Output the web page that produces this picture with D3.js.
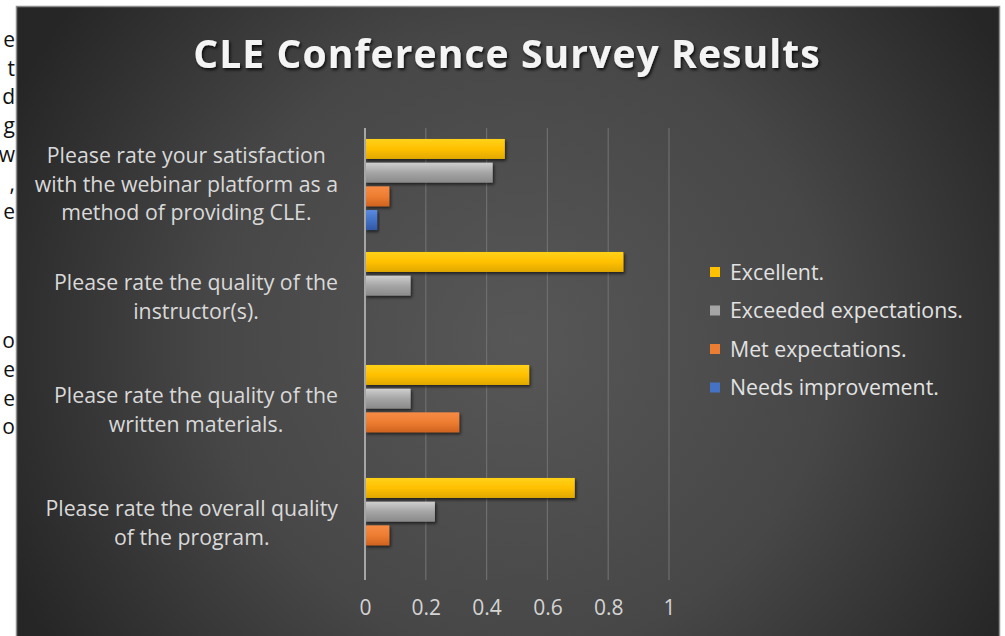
<!DOCTYPE html>
<html>
<head>
<meta charset="utf-8">
<script src="https://cdn.jsdelivr.net/npm/d3@7"></script>
<style>
  body { margin: 0; background: #ffffff; }
  svg { display: block; }
</style>
</head>
<body>
<svg id="canvas"></svg>
<script>
// Chart data.
var categories = [
  'Please rate your satisfaction with the webinar platform as a method of providing CLE.',
  'Please rate the quality of the instructor(s).',
  'Please rate the quality of the written materials.',
  'Please rate the overall quality of the program.'
];
var categoryLines = [
  ['Please rate your satisfaction', 'with the webinar platform as a', 'method of providing CLE.'],
  ['Please rate the quality of the', 'instructor(s).'],
  ['Please rate the quality of the', 'written materials.'],
  ['Please rate the overall quality', 'of the program.']
];
var seriesNames = ['Excellent.', 'Exceeded expectations.', 'Met expectations.', 'Needs improvement.'];
var excellent = [0.46, 0.85, 0.54, 0.69];
var exceeded = [0.42, 0.15, 0.15, 0.23];
var met = [0.08, 0, 0.31, 0.08];
var needs = [0.04, 0, 0, 0];
var tickValues = [0, 0.2, 0.4, 0.6, 0.8, 1];
var tickLabels = ['0', '0.2', '0.4', '0.6', '0.8', '1'];

// Cropped text of the document next to the chart.
var marginLetters = ['e', 't', 'd', 'g', 'w', ',', 'e', 'o', 'e', 'e', 'o'];
var marginRows = [0, 1, 2, 3, 4, 5, 6, 10.5, 11.5, 12.5, 13.5];

var seriesValues = [excellent, exceeded, met, needs];
var seriesColors = [
  ['#ffd11a', '#ffc000', '#e0a800'],
  ['#cfcfcf', '#a5a5a5', '#8a8a8a'],
  ['#f78c45', '#ed7d31', '#cf6420'],
  ['#5b8ae0', '#4472c4', '#3259a6']
];

// Canvas dimensions.
var canvasWidth = 1005;
var canvasHeight = 636;
var font = '"Open Sans", "Noto Sans", sans-serif';

var svg = d3.select('#canvas')
            .attr('width', canvasWidth)
            .attr('height', canvasHeight);

var defs = svg.append('defs');

// Dark background gradient.
var bg = defs.append('radialGradient')
             .attr('id', 'bg')
             .attr('gradientUnits', 'userSpaceOnUse')
             .attr('cx', 520).attr('cy', 340).attr('r', 560);
bg.append('stop').attr('offset', '0%').attr('stop-color', '#575757');
bg.append('stop').attr('offset', '55%').attr('stop-color', '#474747');
bg.append('stop').attr('offset', '100%').attr('stop-color', '#262626');

// Bar gradients.
seriesColors.forEach(function(c, i) {
  var g = defs.append('linearGradient')
              .attr('id', 'bar' + i)
              .attr('x1', 0).attr('y1', 0).attr('x2', 0).attr('y2', 1);
  g.append('stop').attr('offset', '0%').attr('stop-color', c[0]);
  g.append('stop').attr('offset', '50%').attr('stop-color', c[1]);
  g.append('stop').attr('offset', '100%').attr('stop-color', c[2]);
});

// Shadows.
var shadow = defs.append('filter').attr('id', 'shadow')
                 .attr('x', '-10%').attr('y', '-30%').attr('width', '130%').attr('height', '180%');
shadow.append('feDropShadow').attr('dx', 1.5).attr('dy', 2).attr('stdDeviation', 1.5)
      .attr('flood-color', '#000').attr('flood-opacity', 0.6);

var titleShadow = defs.append('filter').attr('id', 'tshadow')
                      .attr('x', '-5%').attr('y', '-30%').attr('width', '110%').attr('height', '160%');
titleShadow.append('feDropShadow').attr('dx', 1.5).attr('dy', 2).attr('stdDeviation', 1.5)
           .attr('flood-color', '#000').attr('flood-opacity', 0.8);

// Margin letters of the surrounding document.
svg.selectAll('.margin')
   .data(marginLetters)
   .enter()
   .append('text')
   .attr('class', 'margin')
   .attr('x', 15)
   .attr('y', function(d, i) { return 47 + marginRows[i] * 28.7; })
   .attr('text-anchor', 'end')
   .attr('font-family', font)
   .attr('font-size', 21)
   .attr('fill', '#111')
   .text(function(d) { return d; });

// Chart frame.
svg.append('rect')
   .attr('x', 16.5).attr('y', 6.5)
   .attr('width', 983).attr('height', 640)
   .attr('fill', 'url(#bg)')
   .attr('stroke', '#8c8c8c')
   .attr('stroke-width', 1.5);

// Title.
svg.append('text')
   .attr('x', 507)
   .attr('y', 68)
   .attr('text-anchor', 'middle')
   .attr('font-family', font)
   .attr('font-weight', 'bold')
   .attr('font-size', 39)
   .attr('letter-spacing', 1.1)
   .attr('fill', '#f4f4f4')
   .attr('filter', 'url(#tshadow)')
   .text('CLE Conference Survey Results');

// Scales.
var plotTop = 128;
var plotBottom = 580;
var xScale = d3.scaleLinear().domain([0, 1]).range([365, 669]);
var yScale = d3.scaleBand().domain(categories).range([plotTop, plotBottom]);
var subScale = d3.scaleBand()
                 .domain(seriesNames)
                 .range([0, yScale.bandwidth()])
                 .paddingInner(0.156)
                 .paddingOuter(0.463);

// Gridlines.
svg.append('g')
   .selectAll('line')
   .data(tickValues.slice(1))
   .enter()
   .append('line')
   .attr('x1', function(d) { return xScale(d); })
   .attr('x2', function(d) { return xScale(d); })
   .attr('y1', plotTop)
   .attr('y2', plotBottom)
   .attr('stroke', '#6e6e6e')
   .attr('stroke-width', 1.2);

// Horizontal axis (labels only).
var xAxis = d3.axisBottom(xScale)
              .tickValues(tickValues)
              .tickFormat(function(d, i) { return tickLabels[i]; })
              .tickSize(0)
              .tickPadding(0);
var xg = svg.append('g')
            .attr('transform', 'translate(0,' + 600 + ')')
            .call(xAxis);
xg.select('.domain').remove();
xg.selectAll('text')
  .attr('font-family', font)
  .attr('font-size', 21)
  .attr('fill', '#d4d4d4');

// Bars.
var groups = svg.append('g')
                .selectAll('g')
                .data(categories)
                .enter()
                .append('g')
                .attr('transform', function(d) { return 'translate(0,' + yScale(d) + ')'; });

groups.selectAll('rect')
      .data(function(d, ci) {
        return seriesNames.map(function(s, si) {
          return { series: s, index: si, value: seriesValues[si][ci] };
        });
      })
      .enter()
      .filter(function(d) { return d.value > 0; })
      .append('rect')
      .attr('x', xScale(0))
      .attr('y', function(d) { return subScale(d.series); })
      .attr('width', function(d) { return xScale(d.value) - xScale(0); })
      .attr('height', subScale.bandwidth())
      .attr('fill', function(d) { return 'url(#bar' + d.index + ')'; })
      .attr('filter', 'url(#shadow)');

// Vertical axis line.
svg.append('line')
   .attr('x1', xScale(0)).attr('x2', xScale(0))
   .attr('y1', plotTop).attr('y2', plotBottom)
   .attr('stroke', '#a6a6a6')
   .attr('stroke-width', 2);

// Category labels, wrapped and centred in a block right-aligned to the axis.
var lineHeight = 28.5;
var labelRight = 338;
categories.forEach(function(cat, ci) {
  var lines = categoryLines[ci];
  var cy = yScale(cat) + yScale.bandwidth() / 2;
  var g = svg.append('g');
  var texts = g.selectAll('text')
               .data(lines)
               .enter()
               .append('text')
               .attr('y', function(d, i) { return cy + (i - (lines.length - 1) / 2) * lineHeight + 7; })
               .attr('text-anchor', 'middle')
               .attr('font-family', font)
               .attr('font-size', 21.3)
               .attr('fill', '#d9d9d9')
               .text(function(d) { return d; });
  var maxW = 0;
  texts.each(function() { maxW = Math.max(maxW, this.getComputedTextLength()); });
  texts.attr('x', labelRight - maxW / 2);
});

// Legend.
var legend = svg.append('g')
                .selectAll('g')
                .data(seriesNames)
                .enter()
                .append('g')
                .attr('transform', function(d, i) { return 'translate(710,' + (272 + i * 38.5) + ')'; });
legend.append('rect')
      .attr('x', 0).attr('y', -5)
      .attr('width', 10).attr('height', 10)
      .attr('fill', function(d, i) { return seriesColors[i][1]; });
legend.append('text')
      .attr('x', 20)
      .attr('y', 7.5)
      .attr('font-family', font)
      .attr('font-size', 21.3)
      .attr('fill', '#e2e2e2')
      .text(function(d) { return d; });
</script>
</body>
</html>
